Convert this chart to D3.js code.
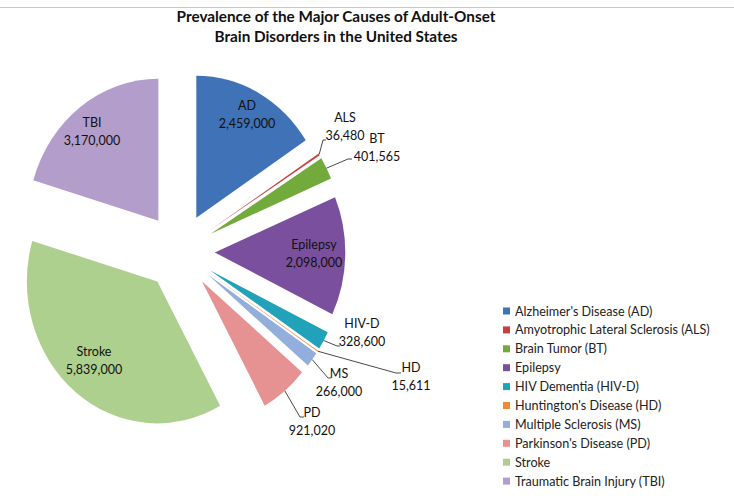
<!DOCTYPE html>
<html>
<head>
<meta charset="utf-8">
<script src="https://cdn.jsdelivr.net/npm/d3@7"></script>
<style>
  body { margin: 0; background: #fff; }
  text { font-family: Lato, "Open Sans", sans-serif; fill: #111; }
</style>
</head>
<body>
<div id="chart"></div>
<script>
// data
var codes = ["AD", "ALS", "BT", "Epilepsy", "HIV-D", "HD", "MS", "PD", "Stroke", "TBI"]
var legendNames = [
  "Alzheimer's Disease (AD)",
  "Amyotrophic Lateral Sclerosis (ALS)",
  "Brain Tumor (BT)",
  "Epilepsy",
  "HIV Dementia (HIV-D)",
  "Huntington's Disease (HD)",
  "Multiple Sclerosis (MS)",
  "Parkinson's Disease (PD)",
  "Stroke",
  "Traumatic Brain Injury (TBI)"
]
var values = [2459000, 36480, 401565, 2098000, 328600, 15611, 266000, 921020, 5839000, 3170000]
var colors = ["#3f72b6", "#c8403e", "#72aa3c", "#7a4f9e", "#21a2b8", "#f08a34", "#92aedd", "#e69293", "#aed08f", "#b39dca"]

var width = 734
var height = 496

// pie layout (the picture is slightly taller than wide)
var cx = 179.5, cy = 251.5
var rx = 130.5, ry = 142
var explode = 35.3

// label placement: inside labels use x,y of first line; outside labels also get a leader bend/end
var labelPos = {
  "AD":       {x: 247, y: 110},
  "ALS":      {x: 345, y: 122, bend: [323, 140], end: [326, 140]},
  "BT":       {x: 377, y: 143, bend: [348, 159], end: [352, 159]},
  "Epilepsy": {x: 314, y: 249},
  "HIV-D":    {x: 362, y: 328, bend: [337, 346], end: [340, 346]},
  "HD":       {x: 411, y: 372, bend: [396, 373], end: [401, 373]},
  "MS":       {x: 339, y: 378, bend: [328, 378], end: [331, 378]},
  "PD":       {x: 312, y: 417, bend: [300, 417], end: [304, 417]},
  "Stroke":   {x: 94,  y: 356},
  "TBI":      {x: 92,  y: 127}
}

var svg = d3.select("#chart").append("svg").attr("width", width).attr("height", height)

svg.append("line").attr("x1", 0).attr("x2", width).attr("y1", 7.5).attr("y2", 7.5)
  .attr("stroke", "#c8c8c8").attr("stroke-width", 1)

svg.append("text").text("Prevalence of the Major Causes of Adult-Onset")
  .attr("x", 336).attr("y", 22).attr("text-anchor", "middle")
  .style("font-weight", "bold").style("font-size", "15.3px")
svg.append("text").text("Brain Disorders in the United States")
  .attr("x", 336).attr("y", 42).attr("text-anchor", "middle")
  .style("font-weight", "bold").style("font-size", "15.3px")

var pie = d3.pie().sort(null).value(function(d){ return d })
var arcs = pie(values)
var arc = d3.arc().innerRadius(0).outerRadius(rx)

var pieG = svg.append("g")
  .attr("transform", "translate(" + cx + "," + cy + ") scale(1," + (ry / rx) + ")")

pieG.selectAll("path").data(arcs).enter().append("path")
  .attr("d", arc)
  .attr("fill", function(d, i){ return colors[i] })
  .attr("transform", function(d){
    var a = (d.startAngle + d.endAngle) / 2
    return "translate(" + (explode * Math.sin(a)) + "," + (-explode * Math.cos(a)) + ")"
  })

var fmt = d3.format(",")

// outer point of a slice at its middle angle, in page coordinates
function outerPoint(d){
  var a = (d.startAngle + d.endAngle) / 2
  var k = ry / rx
  return [cx + (explode + rx) * Math.sin(a), cy - (explode + rx) * Math.cos(a) * k]
}

arcs.forEach(function(d, i){
  var code = codes[i]
  var p = labelPos[code]
  if(p.bend){
    var s = outerPoint(d)
    svg.append("path")
      .attr("d", d3.line()([s, p.bend, p.end]))
      .attr("fill", "none").attr("stroke", "#4a4a4a").attr("stroke-width", 1)
  }
  var t = svg.append("text").attr("text-anchor", "middle").style("font-size", "12.5px")
  t.append("tspan").attr("x", p.x).attr("y", p.y).text(code)
  t.append("tspan").attr("x", p.x).attr("y", p.y + 18).text(fmt(values[i]))
})

// legend
var legend = svg.append("g").attr("transform", "translate(503,311)")
var items = legend.selectAll("g").data(legendNames).enter().append("g")
  .attr("transform", function(d, i){ return "translate(0," + (i * 18.9) + ")" })
items.append("rect").attr("x", 0).attr("y", -3.5).attr("width", 7).attr("height", 7)
  .attr("fill", function(d, i){ return colors[i] })
items.append("text").attr("x", 12).attr("y", 4.5).text(function(d){ return d })
  .style("font-size", "12.6px").style("fill", "#222")
</script>
</body>
</html>
